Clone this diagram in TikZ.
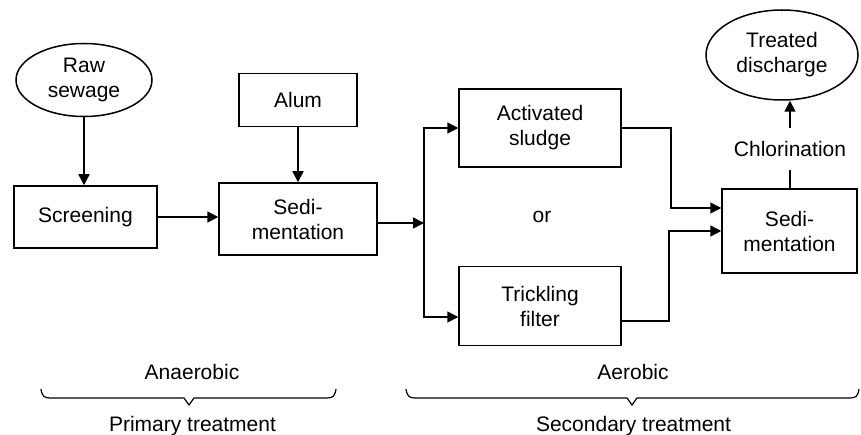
\documentclass[tikz,border=0pt]{standalone}
\usepackage{fontspec}
\setmainfont{Liberation Sans}
\usetikzlibrary{shapes.geometric,arrows.meta}
\begin{document}
\begin{tikzpicture}[x=1pt,y=-1pt,
  every node/.style={font=\fontsize{21}{25}\selectfont, align=center, inner sep=0pt},
  boxnode/.style={draw, line width=1.5pt},
  ellnode/.style={draw, ellipse, line width=1.5pt},
  conn/.style={line width=1.5pt},
  arr/.style={conn, -{Triangle[length=11pt,width=11pt]}}]
\useasboundingbox (0,0) rectangle (861,435);
% nodes
\node[ellnode, minimum width=136pt, minimum height=73pt] (raw) at (84,80) {Raw\\sewage};
\node[boxnode, minimum width=143pt, minimum height=62pt] (scr) at (85.5,217) {Screening};
\node[boxnode, minimum width=118pt, minimum height=53pt] (alum) at (298,100) {Alum};
\node[boxnode, minimum width=158pt, minimum height=72pt] (sed1) at (298,219) {Sedi-\\mentation};
\coordinate (split) at (424,223);
\node[boxnode, minimum width=162pt, minimum height=78pt] (act) at (540,128) {Activated\\sludge};
\node (or) at (542,217) {or};
\node[boxnode, minimum width=162pt, minimum height=79pt] (trick) at (540,306) {Trickling\\filter};
\node[boxnode, minimum width=135pt, minimum height=84pt] (sed2) at (789.5,231) {Sedi-\\mentation};
\node[minimum height=42pt] (chl) at (790,149) {Chlorination};
\node[ellnode, minimum width=152pt, minimum height=90pt] (td) at (782,55) {Treated\\discharge};
% connectors
\draw[arr] (raw) -- (raw |- scr.north);
\draw[arr] (scr.east) -- (sed1.west |- scr.east);
\draw[arr] (alum) -- (sed1);
\draw[arr] (sed1.east |- split) -- (split);
\draw[arr] (split) |- (act.west);
\draw[arr] (split) |- ([yshift=-11pt]trick.west);
\draw[arr] (act.east) -- ++(49,0) |- ([yshift=23pt]sed2.west);
\draw[arr] ([yshift=-15pt]trick.east) -- ++(47,0) |- (sed2.west);
\draw[conn] (sed2.north -| chl) -- (chl.south);
\draw[arr] (chl.north) -- (td.south -| chl.north);
% bottom labels
\node (ana) at (192,372) {Anaerobic};
\node (prim) at (192.5,426) {Primary treatment};
\node (aer) at (633,372) {Aerobic};
\node (sec) at (633.5,426) {Secondary treatment};
\draw[conn, line width=1.2pt] (41,389) .. controls (42,396) and (44,398) .. (50,398) -- (184,398) -- (189,405) -- (194,398) -- (327,398) .. controls (333,398) and (335,396) .. (336,389);
\draw[conn, line width=1.2pt] (406,389) .. controls (407,396) and (409,398) .. (415,398) -- (627,398) -- (632,405) -- (637,398) -- (850,398) .. controls (856,398) and (858,396) .. (859,389);
\end{tikzpicture}
\end{document}
